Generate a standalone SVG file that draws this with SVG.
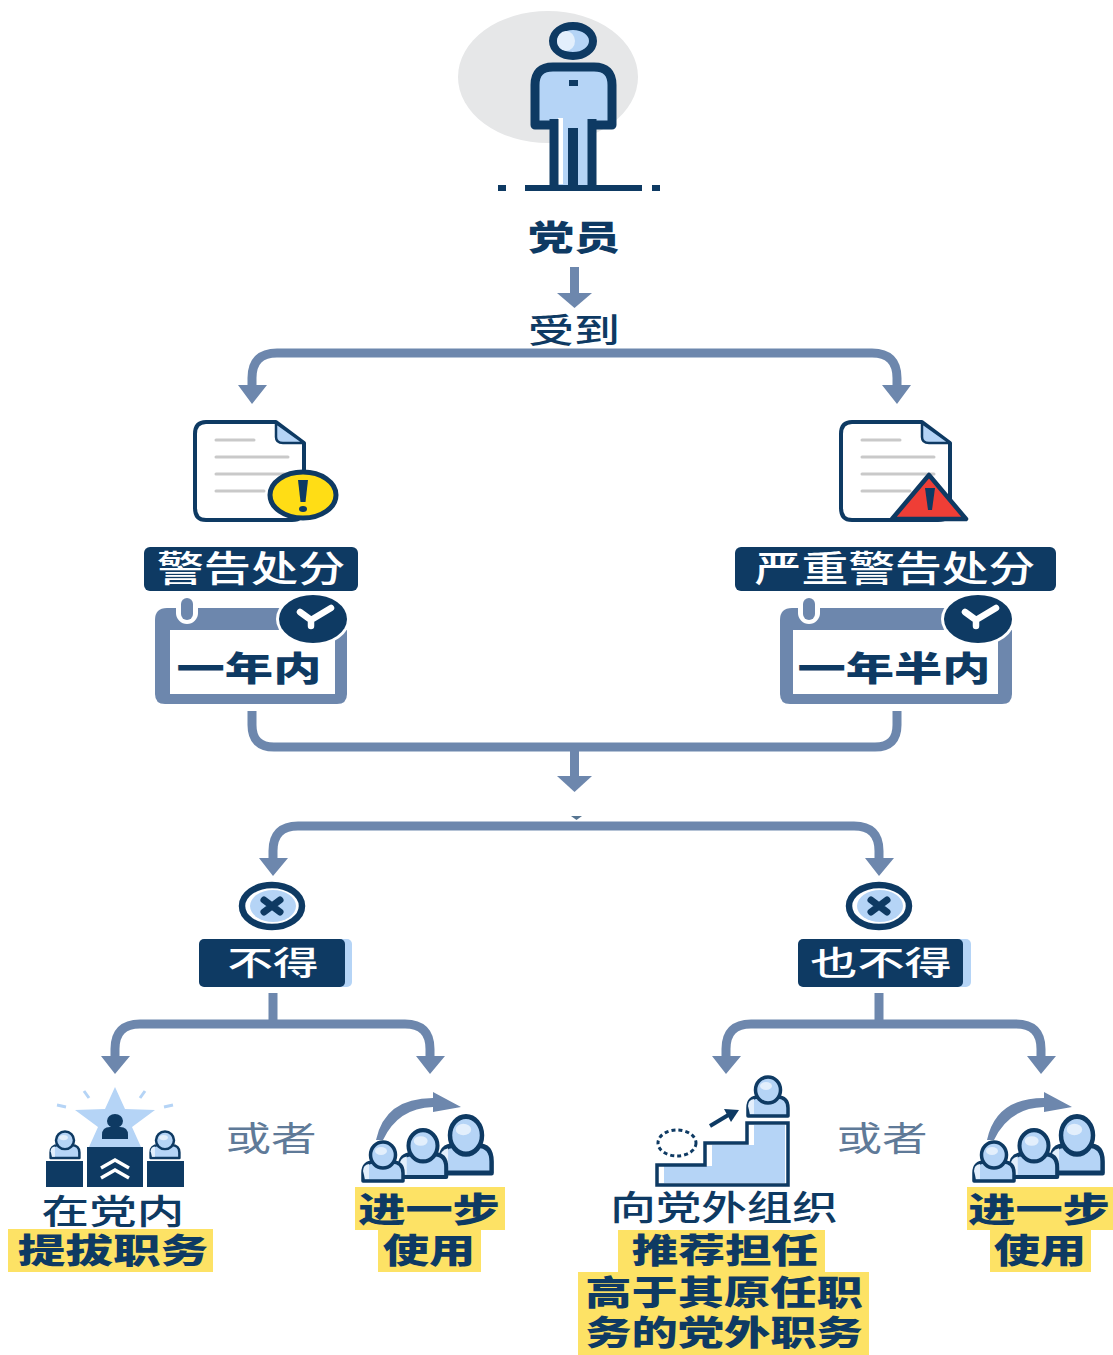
<svg xmlns="http://www.w3.org/2000/svg" width="1113" height="1355" viewBox="0 0 1113 1355">
<style>
text{font-family:"Noto Sans CJK SC","Noto Sans",sans-serif;text-anchor:middle;fill:#0e3a63}
.b{font-weight:900;font-size:34px}
.r{font-weight:500;font-size:34px}
.w{fill:#fff;font-weight:500}
.g{fill:#5f7a98;font-weight:400;font-size:34px}
.dk{fill:#0e3a63}
.lb{fill:#b5d4f6}
.ln{fill:none;stroke:#6d87ad;stroke-width:9}
.hd{fill:#6d87ad}
.y{fill:#fde265}
.dl{stroke:#c9c9c9;stroke-width:3;stroke-linecap:round}
</style>
<defs>
<g id="per">
<path d="M-20 0V-8Q-20 -19 -9 -19H9Q20 -19 20 -8V0Z" fill="#b5d4f6" stroke="#0e3a63" stroke-width="3.500" stroke-linejoin="round"/>
<ellipse cx="0" cy="-26" rx="12.500" ry="13" fill="#b5d4f6" stroke="#0e3a63" stroke-width="3.500"/>
<ellipse cx="-2" cy="-30" rx="6" ry="4" fill="#e3effc"/>
<path d="M-20 -10Q-20 -16 -14 -17V-2H-18Z" fill="#e3effc"/>
</g>
<g id="grp">
<path d="M376 1140Q385 1098 433 1098V1092L461 1107L433 1112V1107Q398 1108 383 1140Z" fill="#6d87ad"/>
<use href="#per" transform="translate(466,1173) scale(1.28,1.45)"/>
<use href="#per" transform="translate(423,1177) scale(1.16,1.2)"/>
<use href="#per" transform="translate(383,1181)"/>
</g>
<g id="cross">
<ellipse cx="0" cy="0" rx="30" ry="21" fill="#fff" stroke="#0e3a63" stroke-width="6.500"/>
<ellipse cx="1" cy="0" rx="23" ry="16" fill="#b5d4f6"/>
<path d="M-8 -6L8 6M8 -6L-8 6" stroke="#0e3a63" stroke-width="7" stroke-linecap="round"/>
</g>
<g id="doc">
<path d="M12 0H82L110 21V86Q110 98 98 98H12Q1 98 1 86V12Q1 0 12 0Z" fill="#fff" stroke="#0e3a63" stroke-width="4" stroke-linejoin="round"/>
<path d="M82 1V15Q82 21 89 21H110Z" fill="#b5d4f6" stroke="#0e3a63" stroke-width="2.500" stroke-linejoin="round"/>
<path class="dl" d="M22 18H60M22 35H94M22 52H94M22 69H70"/>
</g>
<g id="clk">
<ellipse cx="0" cy="0" rx="34" ry="24" fill="#0e3a63"/>
<path d="M-13 -7L-2 1L18 -11M-2 1V7" fill="none" stroke="#fff" stroke-width="6.500" stroke-linecap="round" stroke-linejoin="round"/>
</g>
</defs>

<g id="connectors">
<rect x="570" y="267" width="9" height="27" class="hd"/><path d="M557 293H592L574.500 308Z" class="hd"/>
<path class="ln" d="M252 388V378Q252 353 277 353H872Q897 353 897 378V388"/>
<path class="hd" d="M238 385H267L252 404ZM882 385H911L897 404Z"/>
<path class="ln" d="M252 711V725Q252 747 274 747H875Q897 747 897 725V711"/>
<rect x="570" y="747" width="9" height="30" class="hd"/><path d="M557 776H592L574.500 792Z" class="hd"/>
<path class="dk" d="M571 816H582L576.500 820Z" fill-opacity="0.7"/>
<path class="ln" d="M273 860V851Q273 826 298 826H854Q879 826 879 851V860"/>
<path class="hd" d="M259 858H288L273 876ZM865 858H894L879 876Z"/>
<path class="ln" d="M273 993V1024M115 1058V1049Q115 1024 140 1024H405Q430 1024 430 1049V1058"/>
<path class="hd" d="M101 1056H130L115 1074ZM416 1056H445L430 1074Z"/>
<path class="ln" d="M879 993V1024M726 1058V1049Q726 1024 751 1024H1016Q1041 1024 1041 1049V1058"/>
<path class="hd" d="M712 1056H741L726 1074ZM1027 1056H1056L1041 1074Z"/>
</g>

<g id="member">
<ellipse cx="548" cy="77" rx="90" ry="66" fill="#e6e7e8"/>
<ellipse cx="573" cy="41" rx="20" ry="15" fill="#b5d4f6" stroke="#0e3a63" stroke-width="8"/>
<ellipse cx="566" cy="41" rx="9" ry="10" fill="#e3effc"/>
<path d="M535 124V85Q535 67 553 67H594Q612 67 612 85V124H592V185H554V124Z" fill="#b5d4f6"/>
<rect x="558" y="118" width="5" height="66" fill="#fff"/>
<path d="M554 185V119M592 185V119M554 119V125H535V85Q535 67 553 67H594Q612 67 612 85V125H592V119" fill="none" stroke="#0e3a63" stroke-width="9" stroke-linejoin="round"/>
<rect x="568" y="128" width="10" height="58" class="dk"/>
<rect x="569" y="80" width="9" height="6" class="dk"/>
<rect x="525" y="185" width="117" height="6" class="dk"/>
<rect x="498" y="185" width="8" height="6" class="dk"/>
<rect x="652" y="185" width="8" height="6" class="dk"/>
<text class="b" transform="translate(574,250) scale(1.35,1)">党员</text>
<text class="r" transform="translate(574,343) scale(1.35,1)">受到</text>
</g>

<g id="warning">
<use href="#doc" transform="translate(194,422)"/>
<ellipse cx="303" cy="495" rx="33" ry="23" fill="#ffdd15" stroke="#0e3a63" stroke-width="5"/>
<path d="M298 480H308L305.500 502H300.500Z" class="dk"/>
<ellipse cx="303" cy="509" rx="4" ry="3" class="dk"/>
<rect x="144" y="547" width="214" height="44" rx="6" class="dk"/>
<text class="w" font-size="36" transform="translate(251,582) scale(1.31,1)">警告处分</text>
</g>
<g id="severe">
<use href="#doc" transform="translate(840,422)"/>
<path d="M929 475L966 519H892Z" fill="#ef3e36" stroke="#0e3a63" stroke-width="4.500" stroke-linejoin="round"/>
<path d="M925 488H935L932 510H928Z" class="dk"/>
<rect x="735" y="547" width="321" height="44" rx="6" class="dk"/>
<text class="w" font-size="36" transform="translate(895,582) scale(1.3,1)">严重警告处分</text>
</g>

<g id="cal1">
<path d="M167 608H341Q347 608 347 614V694Q347 704 337 704H165Q155 704 155 694V620Q155 608 167 608Z" class="hd"/>
<rect x="170" y="630" width="165" height="64" fill="#fff"/>
<rect x="176" y="594" width="22" height="30" rx="11" fill="#fff"/>
<rect x="181" y="598" width="12" height="22" rx="6" class="hd"/>
<ellipse cx="313" cy="619" rx="37" ry="27" fill="#fff"/>
<use href="#clk" transform="translate(313,619)"/>
<text class="b" transform="translate(249,681) scale(1.42,1)">一年内</text>
</g>
<g id="cal2">
<path d="M792 608H1006Q1012 608 1012 614V694Q1012 704 1002 704H790Q780 704 780 694V620Q780 608 792 608Z" class="hd"/>
<rect x="793" y="630" width="205" height="64" fill="#fff"/>
<rect x="798" y="594" width="22" height="30" rx="11" fill="#fff"/>
<rect x="803" y="598" width="12" height="22" rx="6" class="hd"/>
<ellipse cx="978" cy="619" rx="37" ry="27" fill="#fff"/>
<use href="#clk" transform="translate(978,619)"/>
<text class="b" transform="translate(894,681) scale(1.42,1)">一年半内</text>
</g>

<g id="no1">
<use href="#cross" transform="translate(272,906)"/>
<rect x="204" y="939" width="148" height="48" rx="5" class="lb"/>
<rect x="199" y="939" width="146" height="48" rx="5" class="dk"/>
<text class="w" font-size="33" transform="translate(273,975) scale(1.38,1)">不得</text>
</g>
<g id="no2">
<use href="#cross" transform="translate(879,906)"/>
<rect x="803" y="939" width="168" height="48" rx="5" class="lb"/>
<rect x="798" y="939" width="165" height="48" rx="5" class="dk"/>
<text class="w" font-size="33" transform="translate(881,975) scale(1.43,1)">也不得</text>
</g>

<g id="promote">
<path d="M115 1087L125 1109L155 1110L132 1127L141 1147H89L98 1127L75 1110L105 1109Z" class="lb"/>
<path d="M57 1105L66 1107M164 1107L173 1105M84 1091L89 1098M145 1091L140 1098" stroke="#b5d4f6" stroke-width="3"/>
<ellipse cx="115" cy="1121" rx="8" ry="7" class="dk"/>
<path d="M102 1139V1135Q102 1127 110 1127H120Q128 1127 128 1135V1139Z" class="dk"/>
<rect x="46" y="1161" width="37" height="26" class="dk"/>
<rect x="87" y="1147" width="56" height="40" class="dk"/>
<rect x="147" y="1161" width="37" height="26" class="dk"/>
<path d="M101 1168L115 1160L129 1168M101 1178L115 1170L129 1178" fill="none" stroke="#fff" stroke-width="3.500"/>
<use href="#per" transform="translate(65,1158) scale(0.72,0.68)"/>
<use href="#per" transform="translate(165,1158) scale(0.72,0.68)"/>
<text class="r" transform="translate(113,1224) scale(1.4,1)">在党内</text>
<rect x="8" y="1229" width="205" height="43" class="y"/>
<text class="b" transform="translate(113,1263) scale(1.4,1)">提拔职务</text>
</g>
<text class="g" transform="translate(271,1151) scale(1.34,1)">或者</text>

<g id="use1">
<use href="#grp"/>
<rect x="355" y="1187" width="150" height="43" class="y"/>
<rect x="378" y="1230" width="103" height="42" class="y"/>
<text class="b" transform="translate(429,1222) scale(1.39,1)">进一步</text>
<text class="b" transform="translate(429,1263) scale(1.36,1)">使用</text>
</g>

<g id="recommend">
<path d="M664 1183V1166H712V1145H754V1125H785V1183Z" class="lb"/>
<path d="M657 1185V1165H705V1143H747V1123H788V1185Z" fill="none" stroke="#0e3a63" stroke-width="3.500"/>
<use href="#per" transform="translate(768,1116)"/>
<path d="M710 1126L730 1114" stroke="#0e3a63" stroke-width="4"/>
<path d="M724 1109L739 1110L731 1122Z" class="dk"/>
<ellipse cx="677" cy="1143" rx="19" ry="13" fill="none" stroke="#0e3a63" stroke-width="3" stroke-dasharray="4 3"/>
<text class="r" transform="translate(724,1220) scale(1.34,1)">向党外组织</text>
<rect x="618" y="1230" width="207" height="42" class="y"/>
<rect x="578" y="1272" width="291" height="43" class="y"/>
<rect x="578" y="1315" width="291" height="40" class="y"/>
<text class="b" transform="translate(725,1263) scale(1.37,1)">推荐担任</text>
<text class="b" transform="translate(724,1305) scale(1.36,1)">高于其原任职</text>
<text class="b" transform="translate(724,1345) scale(1.36,1)">务的党外职务</text>
</g>
<text class="g" transform="translate(882,1151) scale(1.34,1)">或者</text>

<g id="use2">
<use href="#grp" transform="translate(611,0)"/>
<rect x="967" y="1187" width="146" height="43" class="y"/>
<rect x="990" y="1230" width="101" height="42" class="y"/>
<text class="b" transform="translate(1039,1222) scale(1.39,1)">进一步</text>
<text class="b" transform="translate(1040,1263) scale(1.36,1)">使用</text>
</g>
</svg>
